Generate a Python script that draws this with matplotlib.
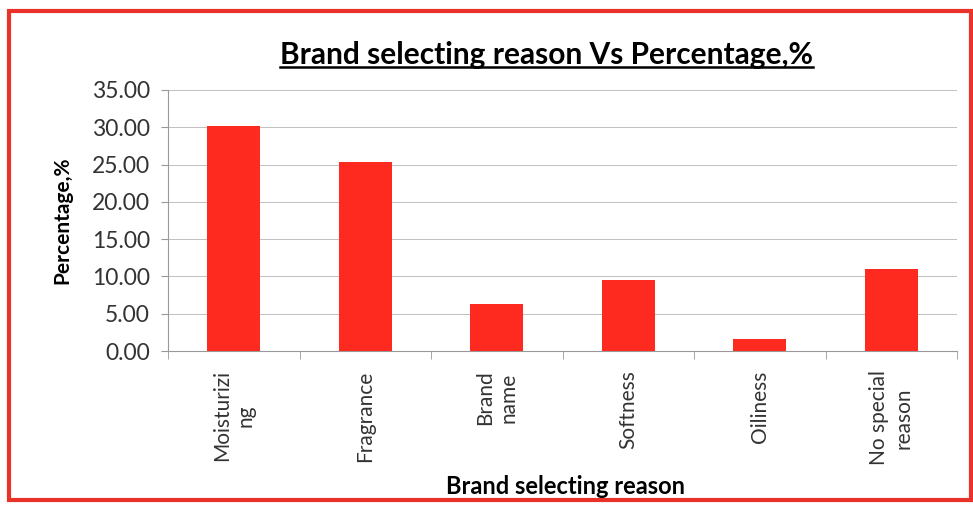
import matplotlib.pyplot as plt
from matplotlib.patches import Rectangle
from matplotlib.lines import Line2D

reasons = ["Moisturizi\nng", "Fragrance", "Brand\nname", "Softness", "Oiliness", "No special\nreason"]
percent = [30.2, 25.3, 6.3, 9.5, 1.6, 11.0]
yticks = [0, 5, 10, 15, 20, 25, 30, 35]

plt.rcParams["font.family"] = ["Lato", "DejaVu Sans"]

fig = plt.figure(figsize=(9.73, 5.05), dpi=100)
ax = fig.add_axes([168 / 973, 1 - 351 / 505, (957 - 168) / 973, (351 - 90) / 505])

x = list(range(len(reasons)))
ax.bar(x, percent, width=0.4, color="#ff2a1f", zorder=3)

ax.set_xlim(-0.5, len(reasons) - 0.5)
ax.set_ylim(0, 35)
ax.set_yticks(yticks)
ax.set_yticklabels([f"{v:.2f}" for v in yticks], fontsize=16.5, color="#333333")
ax.yaxis.grid(True, color="#c0c0c0", linewidth=0.7, zorder=0)

# category labels in the middle, tick marks on the boundaries
ax.set_xticks(x)
ax.set_xticklabels(reasons, rotation=90, fontsize=15, color="#333333", linespacing=1.25)
ax.tick_params(axis="x", length=0, pad=14)
ax.set_xticks([i - 0.5 for i in range(len(reasons) + 1)], minor=True)
ax.tick_params(axis="x", which="minor", length=6, color="#999999")
ax.tick_params(axis="y", length=5, color="#999999", pad=8)

for side in ["top", "right"]:
    ax.spines[side].set_visible(False)
for side in ["left", "bottom"]:
    ax.spines[side].set_color("#999999")
    ax.spines[side].set_linewidth(0.8)

ax.set_ylabel("Percentage,%", fontsize=15, fontweight="bold", labelpad=14)
fig.text(565 / 973, 1 - 487 / 505, "Brand selecting reason", ha="center", va="center",
         fontsize=17, fontweight="bold")

title = fig.text(546 / 973, 1 - 55 / 505, "Brand selecting reason Vs Percentage,%",
                 ha="center", va="center", fontsize=21.5, fontweight="bold")

# underline under the title
fig.canvas.draw()
bb = title.get_window_extent().transformed(fig.transFigure.inverted())
fig.add_artist(Line2D([bb.x0, bb.x1], [bb.y0 + 0.004, bb.y0 + 0.004],
                      transform=fig.transFigure, color="black", linewidth=1.8))

# red frame round the chart
fig.add_artist(Rectangle((9 / 973, 5 / 505), 962 / 973, 489 / 505, transform=fig.transFigure,
                         fill=False, edgecolor="#e8322a", linewidth=3))

fig.savefig("out.png", dpi=100)
